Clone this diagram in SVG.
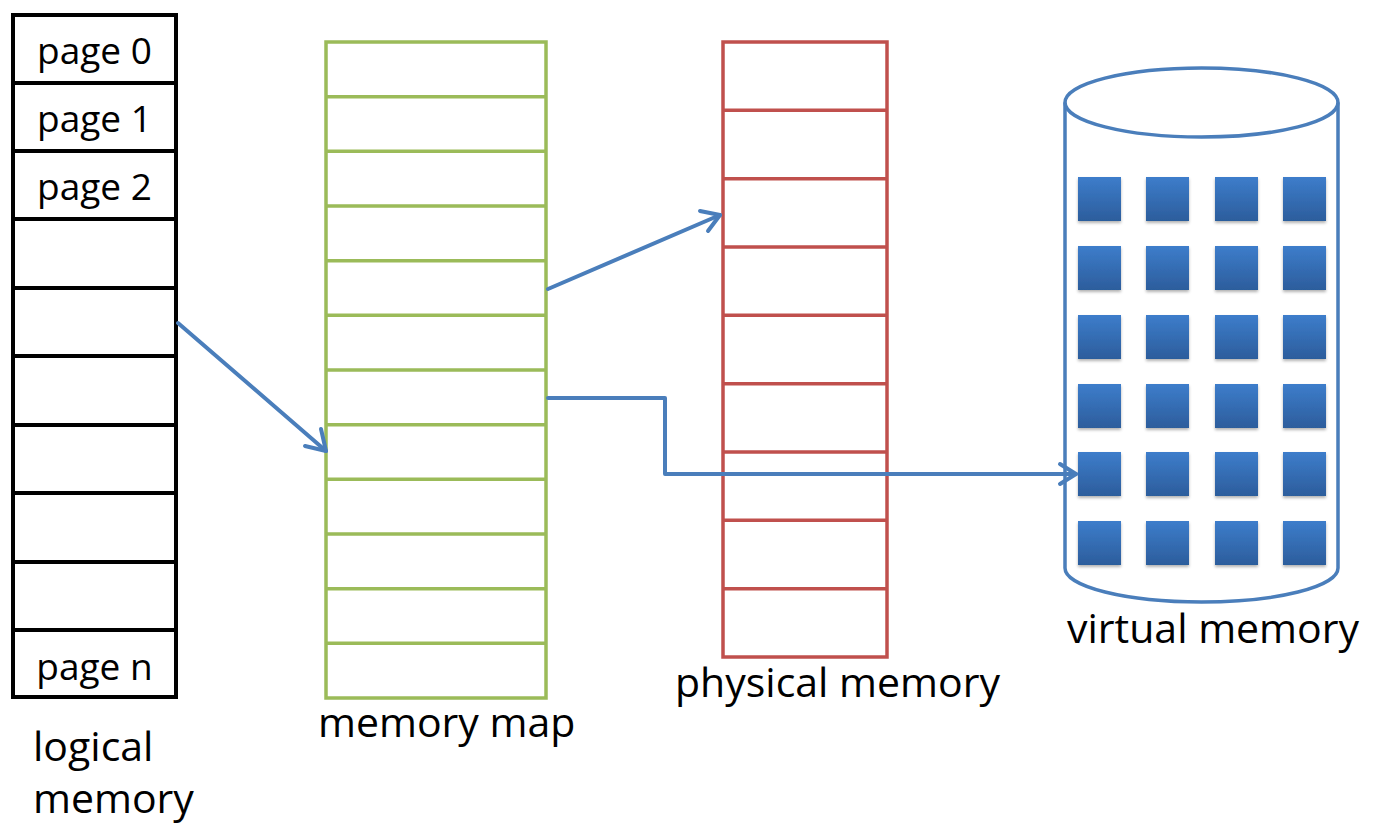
<svg xmlns="http://www.w3.org/2000/svg" width="1388" height="825" viewBox="0 0 1388 825">
<style>
text{font-family:"Open Sans","Noto Sans",sans-serif;fill:#000}
.pg{font-size:37px;text-anchor:middle}
.lb{font-size:41px}
.blk{fill:none;stroke:#000;stroke-width:4}
.grn{fill:none;stroke:#9bbb59;stroke-width:3.5}
.red{fill:none;stroke:#c0504d;stroke-width:3.5}
.cyl{fill:none;stroke:#4a7ebb;stroke-width:3.5}
.con{fill:none;stroke:#4a7ebb;stroke-width:4;stroke-linejoin:round;stroke-linecap:round}
.sq{fill:url(#sqg)}
</style>
<defs>
<linearGradient id="sqg" x1="0" y1="0" x2="0" y2="1">
<stop offset="0" stop-color="#3d7dcb"/>
<stop offset="1" stop-color="#2c5d9c"/>
</linearGradient>
<filter id="sh" x="-20%" y="-20%" width="140%" height="150%">
<feDropShadow dx="0" dy="2" stdDeviation="1.5" flood-color="#000" flood-opacity="0.3"/>
</filter>
</defs>
<g id="logical-memory">
<rect class="blk" x="13" y="15" width="163" height="682"/>
<path class="blk" d="M13 83H176M13 151H176M13 219H176M13 288H176M13 356H176M13 425H176M13 493H176M13 562H176M13 630H176"/>
<text class="pg" x="94.5" y="64">page 0</text>
<text class="pg" x="94.5" y="132">page 1</text>
<text class="pg" x="94.5" y="200">page 2</text>
<text class="pg" x="94.5" y="680">page n</text>
<text class="lb" x="33" y="761">logical</text>
<text class="lb" x="33" y="813">memory</text>
</g>
<g id="memory-map">
<rect class="grn" x="326" y="42" width="220" height="656"/>
<path class="grn" d="M326 96.7H546M326 151.3H546M326 206H546M326 260.7H546M326 315.3H546M326 370H546M326 424.7H546M326 479.3H546M326 534H546M326 588.7H546M326 643.3H546"/>
<text class="lb" x="318" y="737">memory map</text>
</g>
<g id="physical-memory">
<rect class="red" x="723" y="42" width="164" height="615"/>
<path class="red" d="M723 110.3H887M723 178.7H887M723 247H887M723 315.3H887M723 383.7H887M723 452H887M723 520.3H887M723 588.7H887"/>
<text class="lb" x="675" y="697">physical memory</text>
</g>
<g id="virtual-memory">
<path class="cyl" d="M1065 102.5V568A136.5 34 0 0 0 1338 568V102.5"/>
<ellipse class="cyl" cx="1201.5" cy="102.5" rx="136.5" ry="34.5"/>
<g filter="url(#sh)">
<rect class="sq" x="1078" y="177" width="43" height="44"/><rect class="sq" x="1146" y="177" width="43" height="44"/><rect class="sq" x="1215" y="177" width="43" height="44"/><rect class="sq" x="1283" y="177" width="43" height="44"/>
<rect class="sq" x="1078" y="246" width="43" height="44"/><rect class="sq" x="1146" y="246" width="43" height="44"/><rect class="sq" x="1215" y="246" width="43" height="44"/><rect class="sq" x="1283" y="246" width="43" height="44"/>
<rect class="sq" x="1078" y="315" width="43" height="44"/><rect class="sq" x="1146" y="315" width="43" height="44"/><rect class="sq" x="1215" y="315" width="43" height="44"/><rect class="sq" x="1283" y="315" width="43" height="44"/>
<rect class="sq" x="1078" y="384" width="43" height="44"/><rect class="sq" x="1146" y="384" width="43" height="44"/><rect class="sq" x="1215" y="384" width="43" height="44"/><rect class="sq" x="1283" y="384" width="43" height="44"/>
<rect class="sq" x="1078" y="452" width="43" height="44"/><rect class="sq" x="1146" y="452" width="43" height="44"/><rect class="sq" x="1215" y="452" width="43" height="44"/><rect class="sq" x="1283" y="452" width="43" height="44"/>
<rect class="sq" x="1078" y="521" width="43" height="44"/><rect class="sq" x="1146" y="521" width="43" height="44"/><rect class="sq" x="1215" y="521" width="43" height="44"/><rect class="sq" x="1283" y="521" width="43" height="44"/>
</g>
<text class="lb" x="1067" y="643">virtual memory</text>
</g>
<g id="connectors">
<path class="con" d="M178 323L326 451"/>
<path class="con" d="M305 446L326 451L321 429"/>
<path class="con" d="M548 289L720 215"/>
<path class="con" d="M700 211L720 215L708 231"/>
<path class="con" d="M548 398H665V474H1076"/>
<path class="con" d="M1060 464L1076 474L1060 484"/>
</g>
</svg>
